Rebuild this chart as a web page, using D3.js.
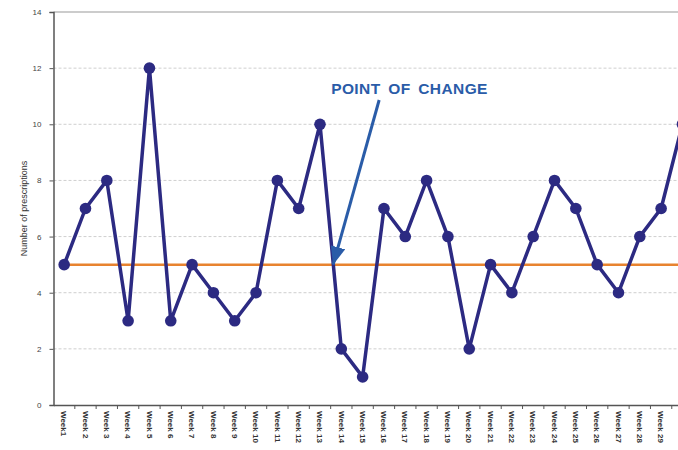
<!DOCTYPE html>
<html>
<head>
<meta charset="utf-8">
<script src="https://cdn.jsdelivr.net/npm/d3@7"></script>
<style>
  body { margin: 0; background: #fff; }
  svg { display: block; font-family: "Liberation Sans", Arial, sans-serif; }
</style>
</head>
<body>
<svg id="chart" width="678" height="450"></svg>
<script>
// data
const weeks = ["Week1", "Week 2", "Week 3", "Week 4", "Week 5", "Week 6", "Week 7", "Week 8",
  "Week 9", "Week 10", "Week 11", "Week 12", "Week 13", "Week 14", "Week 15", "Week 16",
  "Week 17", "Week 18", "Week 19", "Week 20", "Week 21", "Week 22", "Week 23", "Week 24",
  "Week 25", "Week 26", "Week 27", "Week 28", "Week 29", "Week 30"];
const prescriptions = [5, 7, 8, 3, 12, 3, 5, 4, 3, 4, 8, 7, 10, 2, 1, 7, 6, 8, 6, 2, 5, 4, 6, 8, 7, 5, 4, 6, 7, 10];
const baseline = 5;
const yTicks = [0, 2, 4, 6, 8, 10, 12, 14];
const changeWeek = "Week 14";

const svg = d3.select("#chart");
const plotLeft = 53.5, plotTop = 12, plotBottom = 405;
const step = 21.32;
const plotRight = plotLeft + step * weeks.length;

const x = d3.scaleBand()
  .domain(weeks)
  .range([plotLeft, plotRight])
  .paddingInner(0);

const y = d3.scaleLinear()
  .domain([0, 14])
  .range([plotBottom, plotTop]);

// gridlines
svg.append("g")
  .selectAll("line")
  .data(yTicks.filter(d => d > 0 && d < 14))
  .enter().append("line")
  .attr("x1", plotLeft).attr("x2", plotRight)
  .attr("y1", d => y(d)).attr("y2", d => y(d))
  .attr("stroke", "#cfcfcf")
  .attr("stroke-width", 1)
  .attr("stroke-dasharray", "3,2");

// top border
svg.append("line")
  .attr("x1", plotLeft).attr("x2", plotRight)
  .attr("y1", y(14)).attr("y2", y(14))
  .attr("stroke", "#9a9a9a")
  .attr("stroke-width", 1.2);

// y axis
const yAxis = svg.append("g")
  .attr("transform", `translate(${plotLeft},0)`)
  .call(d3.axisLeft(y).tickValues(yTicks).tickSize(4).tickPadding(8));
yAxis.select(".domain").attr("stroke", "#555").attr("stroke-width", 1.5);
yAxis.selectAll(".tick line").attr("stroke", "#555");
yAxis.selectAll("text").attr("fill", "#444").style("font-size", "8px");

// x axis with ticks between categories
const xAxis = svg.append("g")
  .attr("transform", `translate(0,${plotBottom})`)
  .call(d3.axisBottom(x).tickSize(0).tickPadding(0));
xAxis.select(".domain").attr("stroke", "#555").attr("stroke-width", 1.5);
xAxis.selectAll(".tick text")
  .attr("fill", "#333")
  .style("font-size", "8px")
  .style("font-weight", "bold")
  .attr("text-anchor", "start")
  .attr("transform", "rotate(90)")
  .attr("x", 6)
  .attr("y", 0)
  .attr("dy", "0.35em");
xAxis.append("g")
  .selectAll("line")
  .data(weeks)
  .enter().append("line")
  .attr("x1", d => x(d) + x.bandwidth())
  .attr("x2", d => x(d) + x.bandwidth())
  .attr("y1", 0).attr("y2", 4)
  .attr("stroke", "#555");

// y label
svg.append("text")
  .attr("transform", `translate(27,${(plotTop + plotBottom) / 2}) rotate(-90)`)
  .attr("text-anchor", "middle")
  .attr("fill", "#333")
  .style("font-size", "9px")
  .text("Number of prescriptions");

const cx = d => x(d) + x.bandwidth() / 2;

// baseline
svg.append("line")
  .attr("x1", cx(weeks[0]))
  .attr("x2", cx(weeks[weeks.length - 1]))
  .attr("y1", y(baseline)).attr("y2", y(baseline))
  .attr("stroke", "#e8832f")
  .attr("stroke-width", 2.5);

// series
const pts = weeks.map((w, i) => ({ w, v: prescriptions[i] }));
svg.append("path")
  .datum(pts)
  .attr("fill", "none")
  .attr("stroke", "#2c2a82")
  .attr("stroke-width", 3.5)
  .attr("stroke-linejoin", "round")
  .attr("d", d3.line().x(d => cx(d.w)).y(d => y(d.v)));

svg.append("g")
  .selectAll("circle")
  .data(pts)
  .enter().append("circle")
  .attr("cx", d => cx(d.w))
  .attr("cy", d => y(d.v))
  .attr("r", 5.8)
  .attr("fill", "#2c2a82");

// annotation
const tipX = x(changeWeek) + 2.5, tipY = y(baseline);
svg.append("defs").append("marker")
  .attr("id", "head")
  .attr("viewBox", "0 -5 10 10")
  .attr("refX", 10).attr("refY", 0)
  .attr("markerWidth", 6).attr("markerHeight", 5)
  .attr("preserveAspectRatio", "none")
  .attr("markerUnits", "strokeWidth")
  .attr("orient", "auto")
  .append("path")
  .attr("d", "M0,-5L10,0L0,5Z")
  .attr("fill", "#2a5ca8");

svg.append("line")
  .attr("x1", tipX + 46).attr("y1", 100)
  .attr("x2", tipX).attr("y2", tipY)
  .attr("stroke", "#2a5ca8")
  .attr("stroke-width", 3)
  .attr("marker-end", "url(#head)");

svg.append("text")
  .attr("x", 409.5).attr("y", 94)
  .attr("text-anchor", "middle")
  .attr("fill", "#2a5ca8")
  .style("font-size", "15.5px")
  .style("font-weight", "bold")
  .style("letter-spacing", "0.4px")
  .style("word-spacing", "3px")
  .text("POINT OF CHANGE");
</script>
</body>
</html>
